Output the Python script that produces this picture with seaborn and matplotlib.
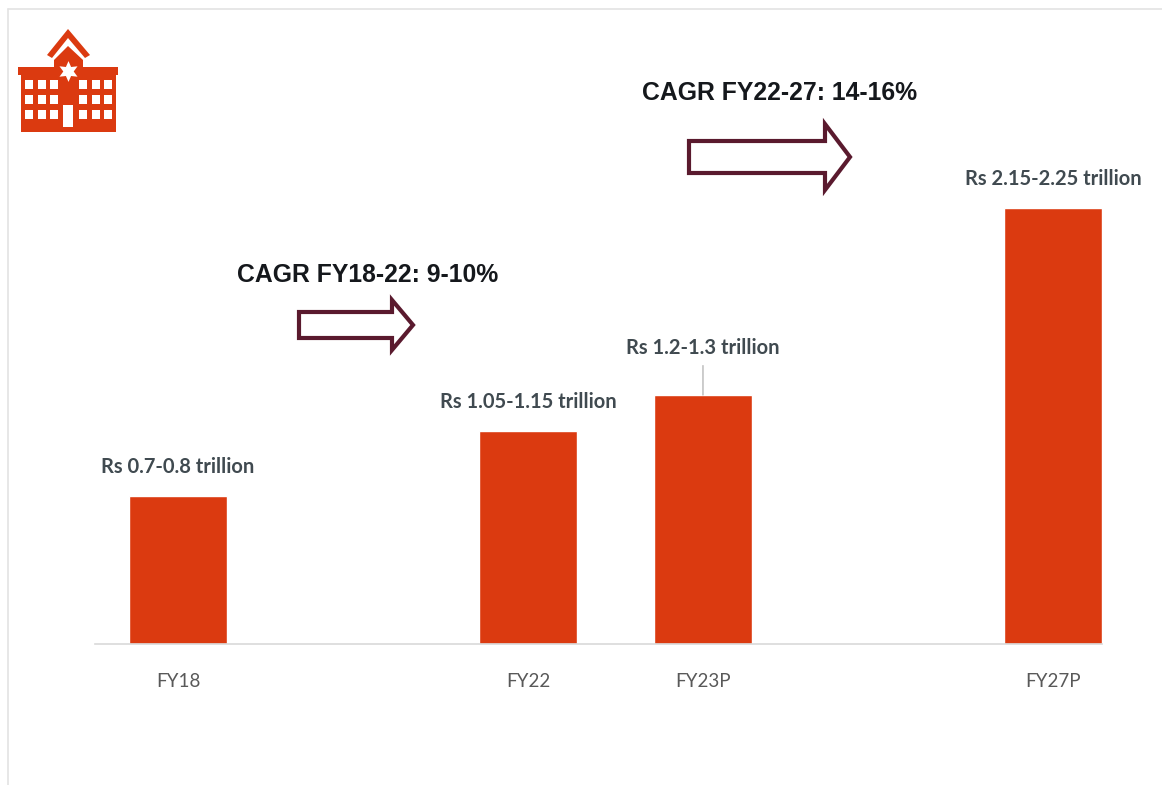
import pandas as pd
import matplotlib
matplotlib.use("Agg")
import matplotlib.pyplot as plt
from matplotlib.patches import Polygon, Rectangle
import seaborn as sns

# valori
years = ["FY18", "FY22", "FY23P", "FY27P"]
values = [0.755, 1.085, 1.27, 2.225]
labels = ["Rs 0.7-0.8 trillion", "Rs 1.05-1.15 trillion", "Rs 1.2-1.3 trillion", "Rs 2.15-2.25 trillion"]
# le categorie vuote creano i salti sull'asse x
order = ["FY18", " ", "FY22", "FY23P", "  ", "FY27P"]

W, H = 1162, 785
RED = "#DB3A10"
DARK = "#5A1A2E"

sns.set_theme(style="white")
plt.rcParams["font.family"] = ["Lato", "DejaVu Sans"]

df = pd.DataFrame({"year": years, "value": values})

fig = plt.figure(figsize=(W / 100, H / 100), dpi=100)
ax = fig.add_axes([95 / W, (H - 644) / H, 1007 / W, 544 / H])

sns.barplot(data=df, x="year", y="value", order=order, color=RED, saturation=1, width=0.56, ax=ax)

ax.set_xlim(-0.474, 5.28)
ax.set_ylim(0, 544 / 196)
ax.set_xlabel("")
ax.set_ylabel("")
ax.set_yticks([])
sns.despine(ax=ax, left=True)
ax.spines["bottom"].set_color("#D9D9D9")
ax.spines["bottom"].set_linewidth(1.2)
ax.tick_params(axis="x", length=0, pad=21, labelsize=13.5, labelcolor="#595959")
ax.patch.set_alpha(0)

# etichette sopra le barre
for year, val, lab in zip(years, values, labels):
    i = order.index(year)
    if year == "FY23P":
        ax.annotate(lab, (i, val), xytext=(0, 47), textcoords="offset pixels", ha="center", va="center",
                    fontsize=14.5, fontweight="bold", color="#404A50",
                    arrowprops=dict(arrowstyle="-", color="#A6A6A6", lw=0.8, shrinkA=3, shrinkB=0))
    else:
        ax.annotate(lab, (i, val), xytext=(0, 29), textcoords="offset pixels", ha="center", va="center",
                    fontsize=14.5, fontweight="bold", color="#404A50")

# livello in pixel per cornice, icona e frecce
over = fig.add_axes([0, 0, 1, 1], zorder=-1)
top = fig.add_axes([0, 0, 1, 1], zorder=5)
top.patch.set_alpha(0)
for a in (over, top):
    a.set_xlim(0, W)
    a.set_ylim(H, 0)
    a.axis("off")

over.plot([8, 8], [9, H], color="#E3E3E3", lw=1.2)
over.plot([8, W], [9, 9], color="#E3E3E3", lw=1.2)


def block_arrow(x0, x1, neck, ymid, half, head):
    pts = [(x0, ymid - half), (neck, ymid - half), (neck, ymid - head), (x1, ymid), (neck, ymid + head),
           (neck, ymid + half), (x0, ymid + half)]
    top.add_patch(Polygon(pts, closed=True, facecolor="white", edgecolor=DARK, lw=3, joinstyle="miter"))


block_arrow(689, 850, 825, 157, 16, 33)
block_arrow(299, 413, 392, 325, 13, 25)

top.text(780, 93, "CAGR FY22-27: 14-16%", ha="center", va="center", fontsize=17.8, fontweight="bold",
         family=["Liberation Sans"], color="#15181C")
top.text(368, 275, "CAGR FY18-22: 9-10%", ha="center", va="center", fontsize=17.8, fontweight="bold",
         family=["Liberation Sans"], color="#15181C")

# icona ospedale
top.add_patch(Polygon([(47, 55), (68, 29), (90, 55), (85, 58), (68, 38), (52, 58)], closed=True, color=RED, lw=0))
top.add_patch(Polygon([(54, 67), (54, 60), (68, 46), (83, 60), (83, 67), (118, 67), (118, 75), (116, 75), (116, 132),
                       (21, 132), (21, 75), (18, 75), (18, 67)], closed=True, color=RED, lw=0))
top.plot([68], [71], marker=(6, 1, 0), markersize=15, color="white", markeredgewidth=0)
for y in (80, 95, 110):
    for x in (25, 38, 50, 79, 92, 104):
        top.add_patch(Rectangle((x, y), 8, 9, color="white", lw=0))
top.add_patch(Rectangle((63, 105), 10, 22, color="white", lw=0))
top.set_xlim(0, W)
top.set_ylim(H, 0)

fig.savefig("out.png", dpi=100)
